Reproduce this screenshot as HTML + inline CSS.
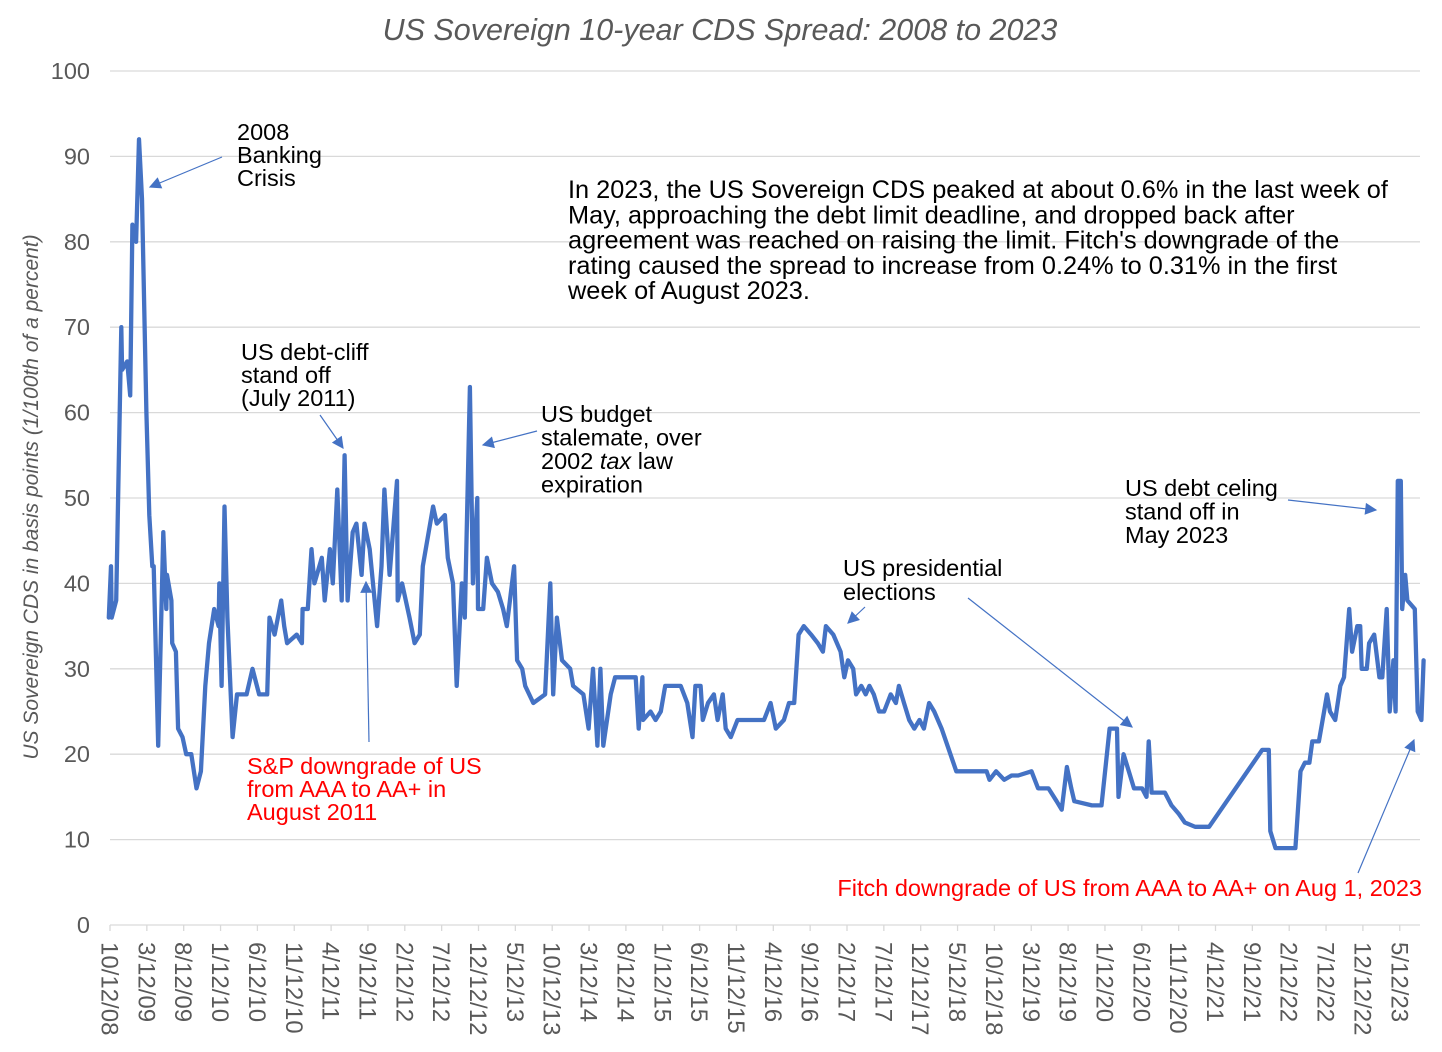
<!DOCTYPE html>
<html><head><meta charset="utf-8"><style>
html,body{margin:0;padding:0;background:#fff;}
svg{display:block;font-family:"Liberation Sans",Arial,sans-serif;}
</style></head><body>
<svg id="chart" width="1442" height="1052" viewBox="0 0 1442 1052" xmlns="http://www.w3.org/2000/svg">
<defs>
<marker id="ah" viewBox="0 0 10 10" refX="9" refY="5" markerWidth="16" markerHeight="12" markerUnits="userSpaceOnUse" orient="auto"><path d="M0,0 L10,5 L0,10 z" fill="#4472C4"/></marker>
</defs>
<text x="720" y="40" text-anchor="middle" font-size="30.5" font-style="italic" fill="#595959">US Sovereign 10-year CDS Spread: 2008 to 2023</text>
<text transform="translate(38,497) rotate(-90)" text-anchor="middle" font-size="21" font-style="italic" fill="#595959">US Sovereign CDS in basis points (1/100th of a percent)</text>
<g id="grid"></g>
<g id="yticks"></g>
<g id="xticks"></g>
<path id="series" fill="none" stroke="#4472C4" stroke-width="4.3" stroke-linejoin="round" stroke-linecap="round"/>

<g font-size="23.5" fill="#000">
<text x="237" y="140"><tspan x="237">2008</tspan><tspan x="237" dy="23">Banking</tspan><tspan x="237" dy="23">Crisis</tspan></text>
<line x1="222" y1="157" x2="150" y2="187" stroke="#4472C4" stroke-width="1.2" marker-end="url(#ah)"/>
</g>
<g font-size="23.5" fill="#000">
<text x="241" y="360"><tspan x="241">US debt-cliff</tspan><tspan x="241" dy="23">stand off</tspan><tspan x="241" dy="23">(July 2011)</tspan></text>
<line x1="320" y1="415" x2="343" y2="448" stroke="#4472C4" stroke-width="1.2" marker-end="url(#ah)"/>
</g>
<g font-size="23.5" fill="#000">
<text x="541" y="422"><tspan x="541">US budget</tspan><tspan x="541" dy="23.5">stalemate, over</tspan><tspan x="541" dy="23.5">2002 <tspan font-style="italic">tax</tspan> law</tspan><tspan x="541" dy="23.5">expiration</tspan></text>
<line x1="537" y1="431" x2="483" y2="445" stroke="#4472C4" stroke-width="1.2" marker-end="url(#ah)"/>
</g>
<g font-size="25.3" fill="#000">
<text x="568" y="198"><tspan x="568">In 2023, the US Sovereign CDS peaked at about 0.6% in the last week of</tspan><tspan x="568" dy="25.3">May, approaching the debt limit deadline, and dropped back after</tspan><tspan x="568" dy="25.3">agreement was reached on raising the limit. Fitch's downgrade of the</tspan><tspan x="568" dy="25.3">rating caused the spread to increase from 0.24% to 0.31% in the first</tspan><tspan x="568" dy="25.3">week of August 2023.</tspan></text>
</g>
<g font-size="23.5" fill="#000">
<text x="843" y="576"><tspan x="843">US presidential</tspan><tspan x="843" dy="24">elections</tspan></text>
<line x1="865" y1="607" x2="848" y2="623" stroke="#4472C4" stroke-width="1.2" marker-end="url(#ah)"/>
<line x1="968" y1="598" x2="1132" y2="727" stroke="#4472C4" stroke-width="1.2" marker-end="url(#ah)"/>
</g>
<g font-size="23.5" fill="#000">
<text x="1125" y="496"><tspan x="1125">US debt celing</tspan><tspan x="1125" dy="23.5">stand off in</tspan><tspan x="1125" dy="23.5">May 2023</tspan></text>
<line x1="1288" y1="500" x2="1376" y2="510" stroke="#4472C4" stroke-width="1.2" marker-end="url(#ah)"/>
</g>
<g font-size="23.5" fill="#FF0000">
<text x="247" y="774"><tspan x="247">S&amp;P downgrade of US</tspan><tspan x="247" dy="23">from AAA to AA+ in</tspan><tspan x="247" dy="23">August 2011</tspan></text>
<line x1="369" y1="742" x2="366" y2="582" stroke="#4472C4" stroke-width="1.2" marker-end="url(#ah)"/>
</g>
<g font-size="23.5" fill="#FF0000">
<text x="1422" y="896" text-anchor="end">Fitch downgrade of US from AAA to AA+ on Aug 1, 2023</text>
<line x1="1358" y1="873" x2="1414" y2="740" stroke="#4472C4" stroke-width="1.2" marker-end="url(#ah)"/>
</g>
</svg>
<script>
// months since 10/12/08
const months = [-0.3,0,0.1,0.7,1.4,1.5,2.2,2.6,2.9,3.4,3.8,4.2,4.8,5.2,5.6,5.8,6.4,7.1,7.5,7.6,8.2,8.3,8.8,9.1,9.7,10.2,10.9,11.6,12.2,12.8,13.3,14.0,14.6,14.7,15.0,15.4,15.8,16.5,17.1,18.4,19.2,20.1,21.2,21.5,22.2,23.1,23.5,23.9,25.2,25.9,26.0,26.7,27.2,27.6,28.6,29.0,29.7,30.1,30.7,31.3,31.7,32.1,32.8,33.3,34.0,34.4,35.1,36.1,36.7,37.1,37.8,38.8,38.9,39.5,40.5,41.2,41.9,42.3,43.7,44.2,45.3,45.7,46.4,46.9,47.6,48.0,48.7,49.1,49.7,49.8,50.5,51.0,51.7,52.5,53.2,53.7,54.7,55.1,55.8,56.2,57.3,58.9,59.6,60.0,60.5,61.2,62.3,62.7,64.1,64.8,65.4,66.0,66.4,66.8,67.8,68.4,69.1,71.2,71.6,72.1,72.2,73.2,73.9,74.6,75.2,77.3,78.2,78.9,79.3,80.0,80.3,81.0,81.8,82.3,83.0,83.4,84.1,85.0,86.4,87.8,88.6,89.5,90.2,91.3,92.0,92.7,93.3,94.0,95.0,95.9,96.6,97.0,98.0,99.0,99.5,100.0,100.7,101.1,101.8,102.4,102.9,103.5,104.2,104.9,105.8,106.5,106.9,107.6,108.3,109.0,109.7,110.3,111.0,111.7,112.7,114.7,115.4,118.8,119.2,120.1,121.2,122.2,123.1,124.9,125.8,127.2,128.3,129.0,129.7,130.3,130.7,133.1,134.4,135.5,136.5,136.7,137.4,138.1,138.8,139.9,140.5,140.8,141.2,143.0,143.9,144.9,145.7,147.1,149.0,156.2,157.1,157.3,158.0,160.7,161.4,162.0,162.6,163.0,163.9,164.6,165.0,165.4,166.1,166.8,167.3,168.0,168.4,169.1,169.5,169.7,170.4,170.7,171.4,172.1,172.5,173.1,173.5,174.0,174.3,174.6,175.0,175.2,175.6,175.9,176.9,177.3,177.8,178.1];
const spread = [36,42,36,38,70,65,66,62,82,80,92,85,60,48,42,42,21,46,37,41,38,33,32,23,22,20,20,16,18,28,33,37,35,40,28,49,36,22,27,27,30,27,27,36,34,38,35,33,34,33,37,37,44,40,43,38,44,40,51,38,55,38,46,47,41,47,44,35,42,51,41,52,38,40,36,33,34,42,49,47,48,43,40,28,40,36,63,40,50,37,37,43,40,39,37,35,42,31,30,28,26,27,40,27,36,31,30,28,27,23,30,21,30,21,27,29,29,29,23,29,24,25,24,25,28,28,26,22,28,28,24,26,27,24,27,23,22,24,24,24,24,26,23,24,26,26,34,35,34,33,32,35,34,32,29,31,30,27,28,27,28,27,25,25,27,26,28,26,24,23,24,23,26,25,23,18,18,18,17,18,17,17.5,17.5,18,16,16,14.5,13.5,18.5,16,14.5,14,14,23,23,15,20,18,16,16,15,21.5,15.5,15.5,14,13,12,11.5,11.5,20.5,20.5,11,9,9,18,19,19,21.5,21.5,25,27,25,24,28,29,37,32,35,35,30,30,33,34,29,29,37,25,31,25,52,52,37,41,38,37,25,24,31];
const yTicks = [0,10,20,30,40,50,60,70,80,90,100];
const xTickLabels = ["10/12/08","3/12/09","8/12/09","1/12/10","6/12/10","11/12/10","4/12/11","9/12/11","2/12/12","7/12/12","12/12/12","5/12/13","10/12/13","3/12/14","8/12/14","1/12/15","6/12/15","11/12/15","4/12/16","9/12/16","2/12/17","7/12/17","12/12/17","5/12/18","10/12/18","3/12/19","8/12/19","1/12/20","6/12/20","11/12/20","4/12/21","9/12/21","2/12/22","7/12/22","12/12/22","5/12/23"];
const xTickMonths = [0,5,10,15,20,25,30,35,40,45,50,55,60,65,70,75,80,85,90,95,100,105,110,115,120,125,130,135,140,145,150,155,160,165,170,175];

const NS="http://www.w3.org/2000/svg";
const xS = m => 111 + m*7.37;
const yS = v => 925 - v*8.54;
const grid=document.getElementById('grid'), yt=document.getElementById('yticks'), xt=document.getElementById('xticks');
yTicks.forEach(v=>{
  const l=document.createElementNS(NS,'line');
  
  
  l.setAttribute('x1',110);l.setAttribute('x2',1420);l.setAttribute('y1',yS(v));l.setAttribute('y2',yS(v));
  l.setAttribute('stroke','#d9d9d9');l.setAttribute('stroke-width','1.3');
  grid.appendChild(l);
  const t=document.createElementNS(NS,'text');
  
  
  t.setAttribute('x',90);t.setAttribute('y',yS(v)+8);t.setAttribute('text-anchor','end');
  t.setAttribute('font-size','23.5');t.setAttribute('fill','#595959');t.textContent=v;
  yt.appendChild(t);
});
xTickMonths.forEach((m,i)=>{
  const tk=document.createElementNS(NS,'line');
  
  
  const tx=xS(m)-1;
  tk.setAttribute('x1',tx);tk.setAttribute('x2',tx);tk.setAttribute('y1',925);tk.setAttribute('y2',931);
  tk.setAttribute('stroke','#d9d9d9');tk.setAttribute('stroke-width','1.3');
  grid.appendChild(tk);
  const t=document.createElementNS(NS,'text');
  
  
  t.setAttribute('transform','translate('+(tx-8.5)+',942) rotate(90)');
  t.setAttribute('font-size','24');t.setAttribute('fill','#595959');t.textContent=xTickLabels[i];
  xt.appendChild(t);
});
let d='';
months.forEach((m,i)=>{d+=(i?'L':'M')+xS(m).toFixed(1)+','+yS(spread[i]).toFixed(1);});
document.getElementById('series').setAttribute('d',d);
</script>
</body></html>
